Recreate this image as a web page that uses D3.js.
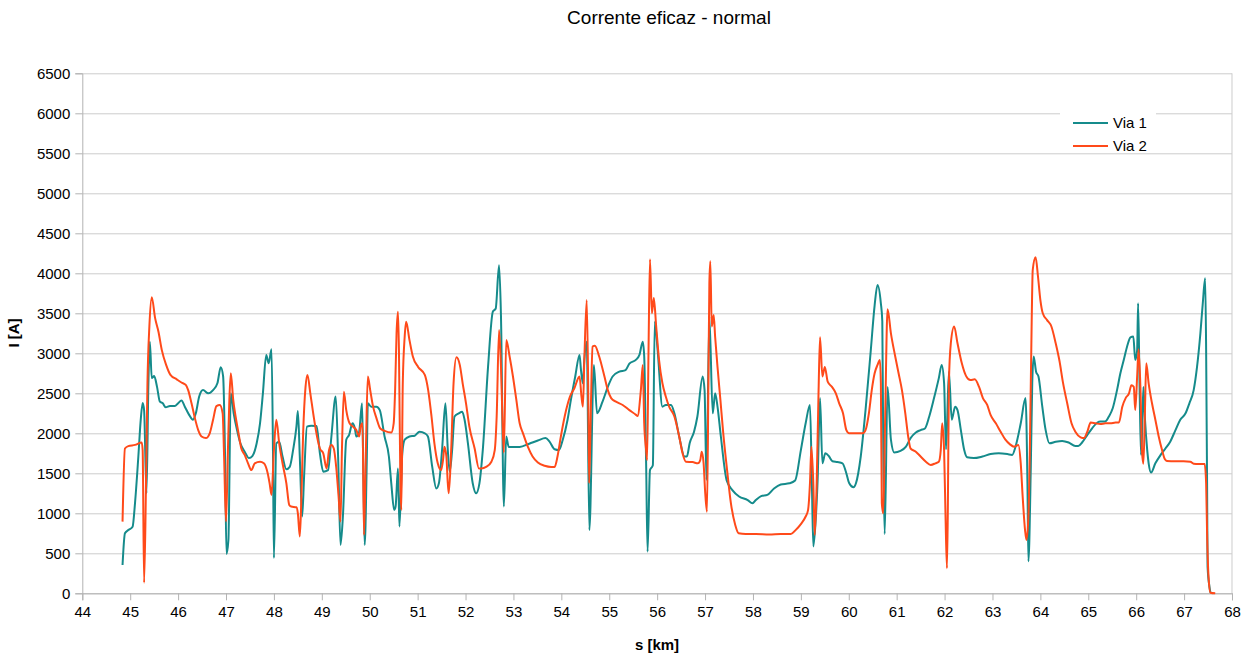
<!DOCTYPE html>
<html lang="pt">
<head>
<meta charset="UTF-8">
<title>Corrente eficaz - normal</title>
<style>
  body { margin: 0; background: #fff; }
  svg { display: block; font-family: "Liberation Sans", Arial, sans-serif; }
</style>
</head>
<body>
<svg id="chart" width="1256" height="655"></svg>
<script src="https://cdn.jsdelivr.net/npm/d3@7"></script>
<script>
// ---- dados: posicao [km] e corrente eficaz [A] ----
var s1 = [44.84,44.89,44.96,45.05,45.10,45.17,45.22,45.26,45.29,45.34,45.38,45.41,45.45,45.50,45.56,45.62,45.68,45.74,45.83,45.93,
  46.00,46.07,46.14,46.23,46.31,46.37,46.44,46.52,46.63,46.73,46.82,46.89,46.94,46.98,47.01,47.05,47.10,47.16,47.23,47.30,
  47.39,47.48,47.55,47.64,47.71,47.77,47.84,47.89,47.95,47.98,48.00,48.05,48.11,48.18,48.26,48.33,48.40,48.47,48.50,48.54,
  48.59,48.63,48.69,48.78,48.89,48.96,49.03,49.13,49.20,49.29,49.34,49.39,49.44,49.51,49.57,49.64,49.69,49.72,49.78,49.84,
  49.87,49.895,49.94,49.96,50.03,50.14,50.21,50.31,50.40,50.45,50.51,50.54,50.59,50.62,50.68,50.73,50.83,50.94,51.04,51.15,
  51.215,51.305,51.39,51.444,51.51,51.58,51.63,51.67,51.72,51.77,51.86,51.93,51.98,52.05,52.15,52.22,52.29,52.36,52.47,52.57,
  52.63,52.70,52.74,52.80,52.85,52.90,53.13,53.33,53.51,53.67,53.75,53.86,53.95,54.03,54.13,54.20,54.29,54.38,54.41,54.45,
  54.48,54.53,54.585,54.68,54.745,54.86,54.97,55.07,55.21,55.34,55.42,55.56,55.63,55.70,55.73,55.77,55.80,55.85,55.91,55.95,
  56.01,56.11,56.18,56.29,56.36,56.46,56.57,56.62,56.68,56.77,56.84,56.95,56.99,57.03,57.09,57.16,57.21,57.26,57.33,57.45,
  57.57,57.71,57.89,57.99,58.06,58.17,58.30,58.44,58.58,58.76,58.88,59.00,59.10,59.19,59.23,59.26,59.31,59.35,59.40,59.45,
  59.51,59.59,59.66,59.76,59.87,59.94,60.01,60.10,60.15,60.25,60.35,60.46,60.54,60.60,60.67,60.70,60.72,60.75,60.81,60.88,
  60.95,61.08,61.19,61.29,61.40,61.50,61.59,61.68,61.78,61.88,61.94,61.99,62.03,62.09,62.15,62.22,62.27,62.34,62.41,62.47,
  62.61,62.79,62.96,63.13,63.31,63.41,63.48,63.59,63.69,63.73,63.75,63.80,63.83,63.86,63.91,63.96,64.04,64.11,64.19,64.32,
  64.455,64.59,64.73,64.79,64.87,64.98,65.08,65.19,65.25,65.35,65.43,65.51,65.60,65.67,65.74,65.81,65.88,65.94,65.98,66.02,
  66.04,66.07,66.10,66.12,66.15,66.18,66.23,66.26,66.31,66.40,66.51,66.61,66.71,66.82,66.92,67.03,67.11,67.20,67.27,67.34,
  67.39,67.44,67.46,67.48,67.49,67.53,67.55];
var via1 = [354,750,790,833,1125,1710,2170,2380,2290,1250,2625,3145,2690,2715,2580,2395,2375,2325,2340,2340,
  2375,2410,2333,2230,2170,2250,2460,2540,2500,2540,2625,2825,2710,1710,492,667,2500,2250,2040,1875,
  1770,1690,1715,1875,2125,2500,2980,2875,3050,1790,440,1875,1895,1710,1550,1580,1790,2083,2280,1710,
  960,1460,2083,2095,2090,1750,1520,1540,1960,2460,1710,605,960,1920,1980,2125,2060,1960,2020,2375,
  1375,605,1710,2375,2333,2333,2290,1960,1710,1375,1040,1085,1560,835,1750,1920,1960,1970,2020,2000,
  1960,1580,1310,1375,1790,2375,1790,1520,1790,2210,2250,2270,2170,1875,1375,1250,1375,1790,2830,3520,
  3560,4100,3460,1085,1960,1830,1830,1870,1910,1940,1900,1800,1790,1920,2170,2420,2710,2980,2790,2625,
  2920,3145,790,2854,2250,2395,2580,2710,2770,2790,2870,2920,2980,3145,2960,1625,520,1540,1600,3395,
  3040,2333,2354,2354,2250,1960,1710,1710,1880,2020,2210,2710,2540,1415,3460,2250,2500,2333,1960,1415,
  1290,1210,1165,1125,1165,1215,1230,1310,1360,1375,1410,1790,2125,2354,1375,585,920,1415,2440,1625,
  1750,1710,1650,1640,1625,1520,1375,1325,1375,1710,2290,3040,3600,3855,3625,3400,1790,740,2580,1920,
  1760,1780,1830,1940,2010,2040,2060,2210,2440,2690,2855,2625,1800,2770,2170,2333,2290,2040,1790,1700,
  1690,1710,1740,1750,1740,1730,1830,2125,2440,1375,400,1580,2625,2960,2770,2710,2333,2040,1875,1895,
  1905,1885,1840,1840,1885,1980,2063,2135,2146,2146,2210,2313,2540,2750,2915,3085,3200,3210,2915,3040,
  3625,2625,1730,1960,2580,2210,1790,1625,1510,1625,1730,1810,1895,2040,2170,2250,2375,2540,2830,3250,
  3625,3938,3040,1375,333,80,8];

var s2 = [44.84,44.89,44.96,45.10,45.24,45.26,45.29,45.33,45.36,45.40,45.45,45.52,45.59,45.66,45.75,45.84,45.97,46.07,46.16,46.21,
  46.28,46.35,46.42,46.49,46.58,46.66,46.73,46.80,46.87,46.93,46.96,47.00,47.04,47.07,47.10,47.15,47.20,47.25,47.32,47.39,
  47.46,47.53,47.60,47.71,47.79,47.87,47.91,47.95,48.00,48.05,48.11,48.18,48.26,48.32,48.36,48.47,48.50,48.54,48.57,48.61,
  48.66,48.70,48.76,48.83,48.90,48.96,49.03,49.10,49.15,49.20,49.25,49.30,49.35,49.39,49.42,49.46,49.51,49.58,49.65,49.72,
  49.78,49.81,49.85,49.88,49.92,49.96,50.01,50.07,50.14,50.22,50.31,50.45,50.50,50.53,50.56,50.59,50.61,50.64,50.66,50.69,
  50.73,50.76,50.83,50.90,51.01,51.15,51.22,51.29,51.35,51.42,51.49,51.53,51.56,51.60,51.63,51.65,51.70,51.75,51.81,51.88,
  51.94,52.01,52.08,52.19,52.28,52.33,52.43,52.54,52.61,52.65,52.70,52.74,52.77,52.80,52.85,52.92,52.99,53.06,53.13,53.20,
  53.30,53.40,53.51,53.65,53.79,53.86,53.92,53.99,54.10,54.18,54.27,54.38,54.42,54.45,54.48,54.53,54.56,54.58,54.62,54.65,
  54.70,54.79,54.90,54.97,55.04,55.14,55.28,55.42,55.56,55.59,55.66,55.70,55.73,55.77,55.79,55.82,55.85,55.89,55.93,55.98,
  56.04,56.11,56.18,56.25,56.36,56.46,56.53,56.60,56.74,56.85,56.90,56.93,56.97,57.00,57.04,57.07,57.09,57.11,57.14,57.18,
  57.21,57.26,57.32,57.38,57.46,57.54,57.63,57.70,57.85,58.06,58.34,58.58,58.79,58.89,59.00,59.10,59.15,59.19,59.22,59.26,
  59.29,59.33,59.37,59.40,59.45,59.50,59.56,59.65,59.73,59.80,59.88,59.95,60.01,60.15,60.29,60.35,60.42,60.48,60.54,60.60,
  60.65,60.67,60.69,60.72,60.76,60.81,60.88,60.97,61.04,61.11,61.18,61.24,61.29,61.40,61.50,61.61,61.71,61.81,61.88,61.92,
  61.95,61.99,62.02,62.05,62.07,62.09,62.13,62.20,62.27,62.36,62.45,62.54,62.63,62.72,62.80,62.89,62.96,63.07,63.17,63.27,
  63.36,63.45,63.54,63.59,63.63,63.68,63.71,63.75,63.78,63.82,63.84,63.90,63.95,64.00,64.05,64.14,64.23,64.32,64.40,64.47,
  64.56,64.65,64.73,64.84,64.91,64.98,65.05,65.15,65.25,65.36,65.46,65.57,65.64,65.71,65.78,65.85,65.90,65.95,65.98,66.02,
  66.05,66.09,66.12,66.15,66.18,66.21,66.26,66.33,66.40,66.47,66.54,66.60,66.64,66.82,66.99,67.13,67.20,67.30,67.43,67.46,
  67.48,67.51,67.55,67.65];
var via2 = [896,1810,1840,1855,1885,1790,133,1375,2625,3333,3700,3440,3270,3040,2855,2730,2675,2635,2605,2540,
  2375,2190,2040,1960,1940,2000,2170,2340,2354,2250,1710,896,1790,2420,2750,2420,2210,2040,1810,1730,
  1625,1540,1625,1645,1625,1500,1375,1230,1790,2170,1875,1625,1375,1105,1085,1075,1000,710,1125,2000,
  2580,2730,2500,2210,1960,1810,1750,1560,1790,1855,1810,1580,1210,896,1790,2520,2290,2125,2083,2040,
  1960,2083,2125,730,1790,2710,2540,2333,2190,2060,2030,2010,2125,2540,3250,3520,3040,1375,1040,2625,
  3210,3395,3165,2960,2830,2730,2540,2210,1875,1625,1540,1665,1833,1710,1375,1250,1790,2625,2950,2855,
  2625,2375,2083,1810,1560,1560,1580,1645,1790,2210,3290,2830,2200,1760,3165,2960,2710,2420,2125,2000,
  1833,1710,1635,1595,1580,1580,1710,1960,2290,2460,2560,2710,2460,2333,2915,3665,2625,1375,2420,3085,
  3095,2960,2710,2540,2440,2395,2354,2290,2230,2215,2540,2855,2125,1790,1665,3040,4175,3500,3690,3335,
  2915,2625,2460,2333,2210,1960,1750,1645,1640,1625,1665,1770,1625,1290,1020,2625,3875,4150,3335,3480,
  3210,2830,2420,2000,1540,1125,855,750,740,740,735,740,740,790,865,960,1040,1375,1833,1375,
  730,1375,2540,3200,2710,2830,2645,2580,2500,2375,2250,2040,2000,2000,2000,2040,2250,2540,2750,2855,
  2915,2625,1125,1000,2210,3550,3250,2960,2750,2540,2250,1960,1810,1770,1710,1645,1605,1625,1645,1790,
  2125,1790,960,313,1165,2625,3125,3335,3125,2875,2715,2665,2675,2580,2440,2354,2230,2125,2020,1920,
  1865,1833,1855,1625,1210,790,667,960,1790,3460,4040,4200,3960,3665,3500,3415,3335,3125,2900,2640,
  2375,2125,2020,1950,1940,2020,2135,2125,2115,2125,2125,2135,2135,2333,2440,2500,2600,2580,2290,2710,
  3050,2540,1790,1620,2210,2875,2625,2375,2170,1960,1790,1675,1655,1650,1650,1645,1620,1615,1615,1375,
  750,208,8,0];

var xTicks = d3.range(44, 69, 1);
var yTicks = d3.range(0, 6501, 500);
var series = [
  { name: "Via 1", s: s1, v: via1, color: "#158b8b" },
  { name: "Via 2", s: s2, v: via2, color: "#ff4a1a" }
];

// ---- layout ----
var W = 1256, H = 655;
var m = { top: 73.3, right: 24, bottom: 61.7, left: 82.3 };
var w = W - m.left - m.right, h = H - m.top - m.bottom;

var svg = d3.select("#chart");
var g = svg.append("g").attr("transform", "translate(" + m.left + "," + m.top + ")");

var x = d3.scaleLinear().domain([44, 68]).range([0, w]);
var y = d3.scaleLinear().domain([0, 6500]).range([h, 0]);

// grelha
g.append("g").selectAll("line").data(yTicks).enter().append("line")
  .attr("x1", 0).attr("x2", w)
  .attr("y1", function(d) { return Math.round(y(d)) + 0.5; })
  .attr("y2", function(d) { return Math.round(y(d)) + 0.5; })
  .attr("stroke", "#cccccc").attr("stroke-width", 1);
g.append("line").attr("x1", w).attr("x2", w).attr("y1", 0).attr("y2", h)
  .attr("stroke", "#cccccc");

// eixos
var yAxis = g.append("g").call(d3.axisLeft(y).tickValues(yTicks).tickSize(7).tickPadding(5).tickFormat(d3.format("d")));
var xAxis = g.append("g").attr("transform", "translate(0," + h + ")")
  .call(d3.axisBottom(x).tickValues(xTicks).tickSize(7).tickPadding(6).tickFormat(d3.format("d")));
[yAxis, xAxis].forEach(function(a) {
  a.select(".domain").attr("stroke", "#b3b3b3");
  a.selectAll(".tick line").attr("stroke", "#b3b3b3");
  a.selectAll("text").attr("font-size", 15).attr("fill", "#000")
    .attr("font-family", "'Liberation Sans', Arial, sans-serif");
});

// linhas
var line = d3.line().curve(d3.curveMonotoneX);
series.forEach(function(sr) {
  var pts = sr.s.map(function(k, i) { return [x(k), y(sr.v[i])]; });
  g.append("path").attr("d", line(pts))
    .attr("fill", "none").attr("stroke", sr.color)
    .attr("stroke-width", 2).attr("stroke-linejoin", "round");
});

// titulos
svg.append("text").attr("x", 669).attr("y", 24).attr("text-anchor", "middle")
  .attr("font-size", 19).text("Corrente eficaz - normal");
svg.append("text").attr("x", 657).attr("y", 650).attr("text-anchor", "middle")
  .attr("font-size", 15).attr("font-weight", "bold").text("s [km]");
svg.append("text").attr("transform", "translate(19,333) rotate(-90)").attr("text-anchor", "middle")
  .attr("font-size", 15).attr("font-weight", "bold").text("I [A]");

// legenda
var lg = svg.append("g").attr("transform", "translate(1060,113)");
lg.append("rect").attr("width", 96).attr("height", 40).attr("fill", "#fff");
series.forEach(function(sr, i) {
  var yy = 10 + i * 23;
  lg.append("line").attr("x1", 13).attr("x2", 48).attr("y1", yy).attr("y2", yy)
    .attr("stroke", sr.color).attr("stroke-width", 2);
  lg.append("text").attr("x", 53).attr("y", yy + 5).attr("font-size", 15).text(sr.name);
});
</script>
</body>
</html>
